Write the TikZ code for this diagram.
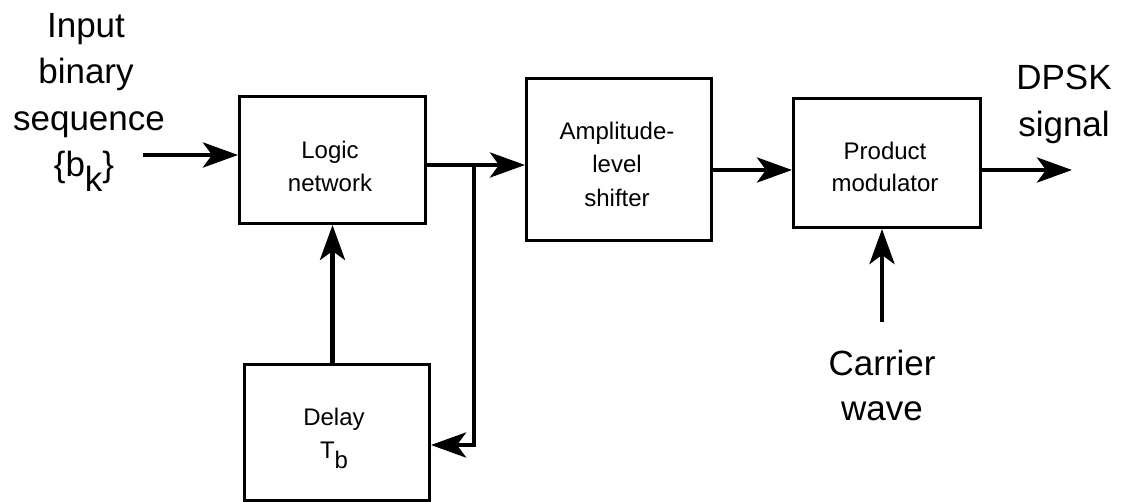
\documentclass[tikz,border=0pt]{standalone}
\usepackage{fontspec}
\setmainfont{Liberation Sans}
\usetikzlibrary{arrows.meta}

\tikzset{
  block/.style={draw, line width=3pt, inner sep=0pt, anchor=north west},
  wire/.style={line width=4.8pt},
  arr/.style={wire, -{Stealth[length=35pt, width=25pt, inset=9pt]}},
  boxtext/.style={anchor=base, inner sep=0pt, font=\fontsize{24}{33}\selectfont},
  bigtext/.style={anchor=base, inner sep=0pt, font=\fontsize{35}{46}\selectfont},
}
\newcommand{\lowsub}[1]{\raisebox{-0.42em}{#1}}

\begin{document}
\begin{tikzpicture}[x=1pt, y=-1pt]
  \useasboundingbox (0,0) rectangle (1123,502);

  % blocks
  \node[block, minimum width=186pt, minimum height=127pt] (logic) at (238,95) {};
  \node[block, minimum width=185pt, minimum height=162pt] (amp)   at (525,77) {};
  \node[block, minimum width=187pt, minimum height=129pt] (prod)  at (792,97) {};
  \node[block, minimum width=185pt, minimum height=136pt] (delay) at (243,363) {};

  % block labels
  \node[boxtext] (logic1) at (330,159) {Logic};
  \node[boxtext] (logic2) at (330,192) {network};
  \node[boxtext] (amp1)   at (617,140) {Amplitude-};
  \node[boxtext] (amp2)   at (617,173) {level};
  \node[boxtext] (amp3)   at (617,207) {shifter};
  \node[boxtext] (prod1)  at (885,160) {Product};
  \node[boxtext] (prod2)  at (885,192) {modulator};
  \node[boxtext] (delay1) at (334,425) {Delay};
  \node[boxtext] (delay2) at (334,458) {T\lowsub{b}};

  % outer labels
  \node[bigtext] (in1) at (86,38)  {Input};
  \node[bigtext] (in2) at (86,84)  {binary};
  \node[bigtext] (in3) at (89,131) {sequence};
  \node[bigtext] (in4) at (84,177) {\{b\lowsub{k}\}};
  \node[bigtext] (out1) at (1064,90)  {DPSK};
  \node[bigtext] (out2) at (1064,137) {signal};
  \node[bigtext] (car1) at (882,375) {Carrier};
  \node[bigtext] (car2) at (882,420) {wave};

  % connector end points
  \coordinate (src) at (143,155);
  \coordinate (j)   at (474,165);
  \coordinate (fb)  at (474,445);
  \coordinate (dst) at (1072,170);
  \coordinate (car) at (882,322);

  % connectors
  \draw[arr] (src) -- (src -| logic.west);
  \draw[wire] (logic.east |- j) -- (j);
  \draw[arr] (j) -- (j -| amp.west);
  \draw[arr, line join=miter] ([yshift=2.4pt]j) -- (fb) -- (fb -| delay.east);
  \draw[arr] (delay.north -| logic.south) -- (logic.south);
  \draw[arr] (amp.east |- dst) -- (dst -| prod.west);
  \draw[arr] (prod.east |- dst) -- (dst);
  \draw[arr] (car) -- (car |- prod.south);
\end{tikzpicture}
\end{document}
